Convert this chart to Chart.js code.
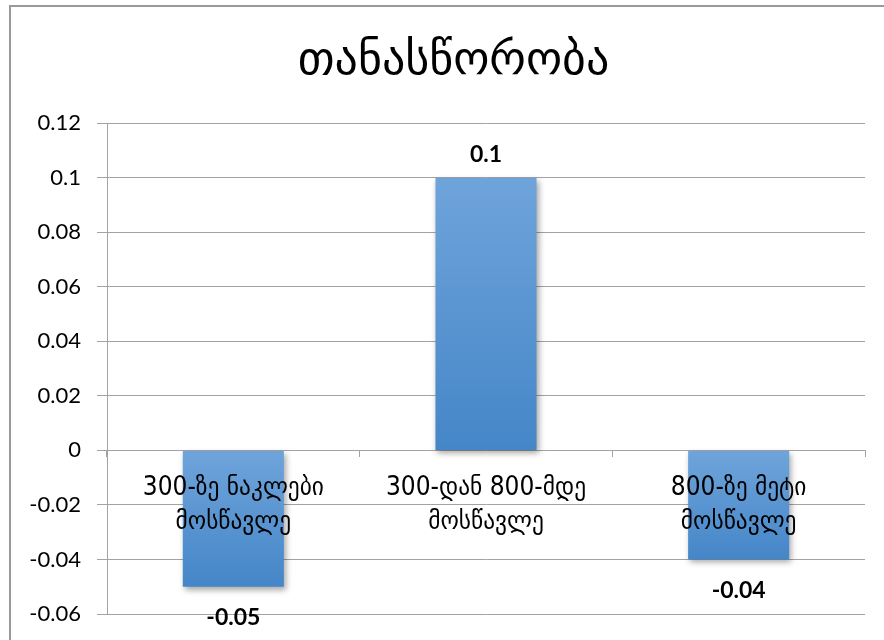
<!DOCTYPE html>
<html>
<head>
<meta charset="utf-8">
<script src="https://cdn.jsdelivr.net/npm/chart.js@4.4.1/dist/chart.umd.min.js"></script>
<style>
  html, body { margin: 0; padding: 0; background: #fff; }
  #frame {
    position: absolute; left: 9px; top: 5px; width: 875px; height: 635px;
    border-top: 2px solid #9a9a9a; border-left: 2px solid #9a9a9a;
  }
  #wrap { position: absolute; left: 0; top: 0; width: 884px; height: 640px; }
</style>
</head>
<body>
<div id="frame"></div>
<div id="wrap"><canvas id="equalityChart" width="884" height="640"></canvas></div>
<script>
/* ========================================
   DATA
======================================== */
const chartTitle = "თანასწორობა";

const categories = [
  ["300-ზე ნაკლები", "მოსწავლე"],
  ["300-დან 800-მდე", "მოსწავლე"],
  ["800-ზე მეტი", "მოსწავლე"]
];

const values = [-0.05, 0.1, -0.04];

const yTickValues = [-0.06, -0.04, -0.02, 0, 0.02, 0.04, 0.06, 0.08, 0.1, 0.12];

const LATIN = "Lato, 'DejaVu Sans', sans-serif";
const NARROW = "'Liberation Sans Narrow', 'DejaVu Sans Condensed', sans-serif";
const GRID = "#a3a3a3";

/* ========================================
   HELPERS
======================================== */
function formatTick(v) {
  return String(+Number(v).toFixed(2));
}

// vertical gradient per bar, lighter at the top
function barGradient(ctx) {
  const chart = ctx.chart;
  const y = chart.scales && chart.scales.y;
  if (!y || !chart.chartArea || ctx.parsed == null) return "#5596d6";
  const p0 = y.getPixelForValue(0);
  const p1 = y.getPixelForValue(ctx.parsed.y);
  const top = Math.min(p0, p1);
  const bottom = Math.max(p0, p1);
  const g = chart.ctx.createLinearGradient(0, top, 0, bottom + 0.01);
  g.addColorStop(0, "#6fa4db");
  g.addColorStop(1, "#4586c8");
  return g;
}

/* ========================================
   PLUGINS
======================================== */
const barShadow = {
  id: "barShadow",
  beforeDatasetDraw(chart) {
    const c = chart.ctx;
    c.save();
    c.shadowColor = "rgba(0,0,0,0.35)";
    c.shadowBlur = 6;
    c.shadowOffsetX = 2;
    c.shadowOffsetY = 3;
  },
  afterDatasetDraw(chart) {
    chart.ctx.restore();
  }
};

// title sits a little right of the canvas centre in the original
const titleNudge = {
  id: "titleNudge",
  beforeDraw(chart) {
    const t = chart.titleBlock;
    if (t) t.left += 22;
  }
};

const valueLabels = {
  id: "valueLabels",
  afterDraw(chart) {
    const c = chart.ctx;
    const meta = chart.getDatasetMeta(0);
    c.save();
    c.font = "bold 23px " + LATIN;
    c.fillStyle = "#000";
    c.textAlign = "center";
    c.textBaseline = "middle";
    meta.data.forEach((bar, i) => {
      const v = values[i];
      const y = v >= 0 ? bar.y - 23 : bar.y + 31;
      c.fillText(formatTick(v), bar.x, y);
    });
    c.restore();
  }
};

function noPadding(s) {
  s.paddingTop = 0;
  s.paddingBottom = 0;
}

/* ========================================
   CHART
======================================== */
new Chart(document.getElementById("equalityChart"), {
  type: "bar",
  data: {
    labels: categories,
    datasets: [{
      data: values,
      backgroundColor: barGradient,
      borderWidth: 0,
      barPercentage: 0.8,
      categoryPercentage: 0.5
    }]
  },
  options: {
    responsive: false,
    animation: false,
    layout: { padding: { left: 20, right: 19, top: 0, bottom: 26 } },
    plugins: {
      legend: { display: false },
      tooltip: { enabled: false },
      title: {
        display: true,
        text: chartTitle,
        color: "#000",
        font: { family: "'DejaVu Sans', sans-serif", size: 46, weight: "normal", lineHeight: 1.2 },
        padding: { top: 34, bottom: 34 }
      }
    },
    scales: {
      x: {
        position: { y: 0 },
        afterFit: noPadding,
        grid: {
          drawOnChartArea: false,
          offset: true,
          tickLength: 7,
          color: GRID
        },
        border: { display: false },
        ticks: {
          z: 1,
          color: "#000",
          padding: 14,
          maxRotation: 0,
          autoSkip: false,
          font: { family: NARROW, size: 26, lineHeight: 1.3 }
        }
      },
      y: {
        min: -0.06,
        max: 0.12,
        afterBuildTicks: s => { s.ticks = yTickValues.map(v => ({ value: v })); },
        afterFit: s => { s.width = 87; noPadding(s); },
        grid: { color: GRID, tickLength: 10 },
        border: { display: true, color: GRID },
        ticks: {
          color: "#000",
          padding: 16,
          callback: v => formatTick(v),
          font: { family: LATIN, size: 22 }
        }
      }
    }
  },
  plugins: [barShadow, titleNudge, valueLabels]
});
</script>
</body>
</html>
